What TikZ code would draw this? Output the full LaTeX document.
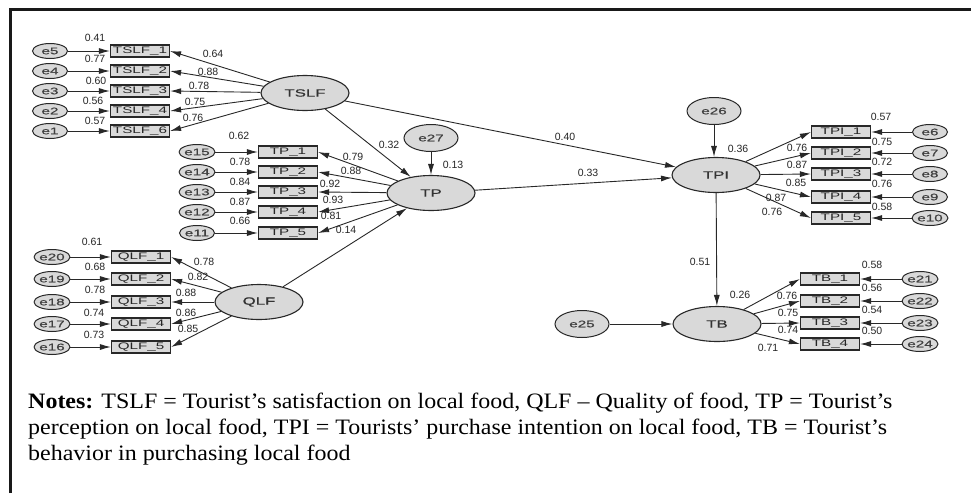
\documentclass[tikz,border=0pt]{standalone}
\usepackage{fontspec}
\setmainfont{Liberation Serif}
\newfontfamily\wsans[FakeStretch=1.6]{Liberation Sans}
\newfontfamily\wbsans[FakeStretch=1.6,FakeBold=0.8]{Liberation Sans}
\newfontfamily\lsans{Liberation Sans}
\newfontfamily\notefont[FakeStretch=1.09]{Liberation Serif}
\usetikzlibrary{shapes.geometric,arrows.meta}
\definecolor{fillg}{RGB}{217,217,217}
\definecolor{lineg}{RGB}{40,40,40}
\tikzset{
  lat/.style={ellipse, draw=lineg, line width=1.1pt, fill=fillg, minimum width=88pt, minimum height=35pt, inner sep=0pt, font=\wbsans\fontsize{10.5}{10.5}\selectfont, text=black!80},
  err/.style={ellipse, draw=lineg, line width=1pt, fill=fillg, minimum width=35pt, minimum height=15pt, inner sep=0pt, font=\wbsans\fontsize{9.5}{9.5}\selectfont, text=black!75},
  errbig/.style={err, minimum width=54pt, minimum height=27pt},
  obs/.style={rectangle, draw=lineg, line width=1.2pt, fill=fillg, minimum width=59pt, minimum height=12pt, inner sep=0pt, font=\wsans\fontsize{9.5}{9.5}\selectfont, text=black!85},
  arr/.style={-{Latex[length=11pt,width=6pt]}, draw=lineg, line width=0.9pt},
  lbl/.style={inner sep=0pt, font=\lsans\fontsize{10.5}{10.5}\selectfont, text=black!85},
  notes/.style={inner sep=0pt, anchor=base west, font=\notefont\fontsize{22}{22}\selectfont}
}
\begin{document}
\begin{tikzpicture}[x=1pt,y=-1pt]
\useasboundingbox (0,0) rectangle (971,493);
\fill[white] (0,0) rectangle (971,493);
\draw[line width=3.5pt, black!90] (10.5,493) -- (10.5,9.5) -- (971,9.5);

% ---------- TSLF block ----------
\node[lat] (TSLF) at (305,93) {TSLF};
\foreach \i/\e/\y/\t in {1/5/51/1, 2/4/71/2, 3/3/91/3, 4/2/111/4, 5/1/131/6} {
  \node[obs] (t\i) at (140,\y) {TSLF\_\t};
  \node[err] (e\e) at (50,\y) {e\e};
  \draw[arr] (e\e) -- (t\i);
  \draw[arr] (TSLF) -- (t\i.east);
}
\node[lbl] (l1) at (213,54) {0.64};
\node[lbl] (l2) at (208,72) {0.88};
\node[lbl] (l3) at (199,86) {0.78};
\node[lbl] (l4) at (195,102) {0.75};
\node[lbl] (l5) at (193,118) {0.76};
\node[lbl] (v1) at (95,38) {0.41};
\node[lbl] (v2) at (95,59) {0.77};
\node[lbl] (v3) at (96,81) {0.60};
\node[lbl] (v4) at (93,101) {0.56};
\node[lbl] (v5) at (95,121) {0.57};

% ---------- TP block ----------
\node[lat] (TP) at (431,193) {TP};
\foreach \i/\e/\y in {1/15/152, 2/14/172, 3/13/192, 4/12/212, 5/11/233} {
  \node[obs] (p\i) at (288,\y) {TP\_\i};
  \node[err] (e\e) at (197,\y) {e\e};
  \draw[arr] (e\e) -- (p\i);
  \draw[arr] (TP) -- (p\i.east);
}
\node[lbl] (pl1) at (353,157) {0.79};
\node[lbl] (pl2) at (351,171) {0.88};
\node[lbl] (pl3) at (330,184) {0.92};
\node[lbl] (pl4) at (333,200) {0.93};
\node[lbl] (pl5) at (331,216) {0.81};
\node[lbl] (pv1) at (239,136) {0.62};
\node[lbl] (pv2) at (240,162) {0.78};
\node[lbl] (pv3) at (240,182) {0.84};
\node[lbl] (pv4) at (240,202) {0.87};
\node[lbl] (pv5) at (240,221) {0.66};
\node[errbig] (e27) at (431,138) {e27};
\draw[arr] (e27) -- (TP);
\node[lbl] (r13) at (453,165) {0.13};

% ---------- QLF block ----------
\node[lat] (QLF) at (259,302) {QLF};
\foreach \i/\e/\y in {1/20/257, 2/19/279, 3/18/302, 4/17/324, 5/16/347} {
  \node[obs] (q\i) at (141,\y) {QLF\_\i};
  \node[err] (e\e) at (52,\y) {e\e};
  \draw[arr] (e\e) -- (q\i);
  \draw[arr] (QLF) -- (q\i.east);
}
\node[lbl] (ql1) at (204,262) {0.78};
\node[lbl] (ql2) at (198,277) {0.82};
\node[lbl] (ql3) at (186,293) {0.88};
\node[lbl] (ql4) at (186,313) {0.86};
\node[lbl] (ql5) at (188,329) {0.85};
\node[lbl] (qv1) at (92,242) {0.61};
\node[lbl] (qv2) at (95,267) {0.68};
\node[lbl] (qv3) at (95,290) {0.78};
\node[lbl] (qv4) at (94,313) {0.74};
\node[lbl] (qv5) at (94,335) {0.73};

% ---------- TPI block ----------
\node[lat] (TPI) at (716,175) {TPI};
\foreach \i/\e/\y in {1/6/132, 2/7/153, 3/8/174, 4/9/197, 5/10/218} {
  \node[obs] (i\i) at (841,\y) {TPI\_\i};
  \node[err] (e\e) at (930,\y) {e\e};
  \draw[arr] (e\e) -- (i\i);
  \draw[arr] (TPI) -- (i\i.west);
}
\node[lbl] (il1) at (797,148) {0.76};
\node[lbl] (il2) at (797,165) {0.87};
\node[lbl] (il3) at (796,183) {0.85};
\node[lbl] (il4) at (776,198) {0.87};
\node[lbl] (il5) at (772,212) {0.76};
\node[lbl] (iv1) at (881,117) {0.57};
\node[lbl] (iv2) at (882,142) {0.75};
\node[lbl] (iv3) at (882,162) {0.72};
\node[lbl] (iv4) at (882,184) {0.76};
\node[lbl] (iv5) at (882,207) {0.58};
\node[errbig] (e26) at (714,111) {e26};
\draw[arr] (e26) -- (e26 |- TPI.north);
\node[lbl] (r36) at (738,149) {0.36};

% ---------- TB block ----------
\node[lat] (TB) at (717,324) {TB};
\foreach \i/\e/\y in {1/21/279, 2/22/301, 3/23/323, 4/24/344} {
  \node[obs] (b\i) at (830,\y) {TB\_\i};
  \node[err] (e\e) at (920,\y) {e\e};
  \draw[arr] (e\e) -- (b\i);
  \draw[arr] (TB) -- (b\i.west);
}
\node[lbl] (bl1) at (787,296) {0.76};
\node[lbl] (bl2) at (788,313) {0.75};
\node[lbl] (bl3) at (788,330) {0.74};
\node[lbl] (bl4) at (768,348) {0.71};
\node[lbl] (bv1) at (872,265) {0.58};
\node[lbl] (bv2) at (872,288) {0.56};
\node[lbl] (bv3) at (872,310) {0.54};
\node[lbl] (bv4) at (872,331) {0.50};
\node[errbig] (e25) at (582,324) {e25};
\draw[arr] (e25) -- (TB);
\node[lbl] (r26) at (740,295) {0.26};

% ---------- structural paths ----------
\draw[arr] (TSLF) -- (TP);
\draw[arr] (TSLF) -- (TPI);
\draw[arr] (TP) -- (TPI);
\draw[arr] (QLF) -- (TP);
\draw[arr] (TPI) -- (TB);
\node[lbl] (s32) at (389,145) {0.32};
\node[lbl] (s40) at (565,137) {0.40};
\node[lbl] (s33) at (588,173) {0.33};
\node[lbl] (s14) at (346,230) {0.14};
\node[lbl] (s51) at (700,262) {0.51};

% ---------- notes ----------
\node[notes] (n1) at (28,408) {\textbf{Notes:} TSLF = Tourist’s satisfaction on local food, QLF – Quality of food, TP = Tourist’s};
\node[notes] (n2) at (28,434) {perception on local food, TPI = Tourists’ purchase intention on local food, TB = Tourist’s};
\node[notes] (n3) at (28,460) {behavior in purchasing local food};
\end{tikzpicture}
\end{document}
